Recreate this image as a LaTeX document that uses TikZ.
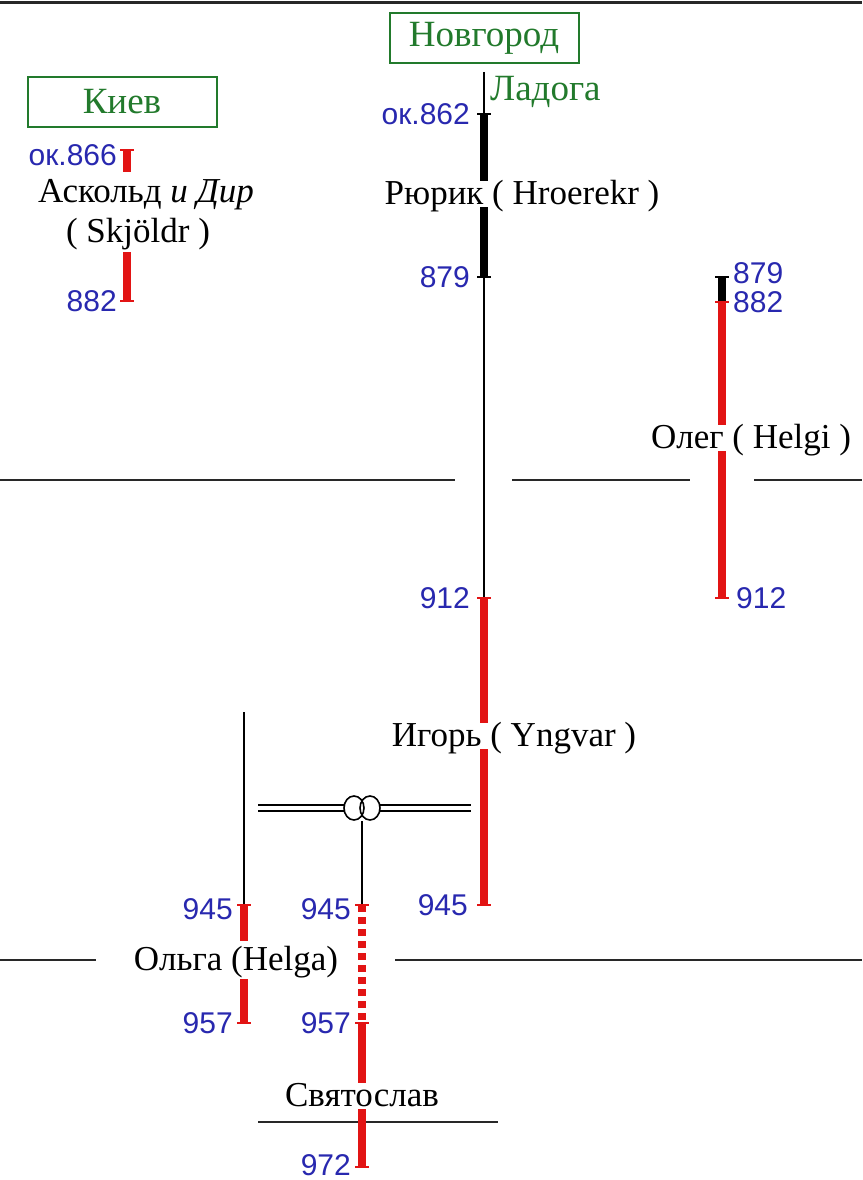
\documentclass[tikz,border=0pt]{standalone}
\usepackage{fontspec}
\setmainfont{Liberation Serif}
\newfontfamily\namefont{Liberation Serif}
\newfontfamily\numfont{Liberation Sans}
\usetikzlibrary{calc}
\definecolor{barred}{RGB}{226,20,20}
\definecolor{numblue}{RGB}{40,40,175}
\definecolor{citygreen}{RGB}{34,122,44}
\definecolor{rulegray}{RGB}{40,40,40}
\tikzset{
  topline/.style={line width=3pt, draw=rulegray},
  rulerline/.style={line width=2pt, draw=rulegray},
  thinline/.style={line width=1.8pt, draw=black},
  redbar/.style={line width=8pt, draw=barred},
  blackbar/.style={line width=8pt, draw=black},
  dotbar/.style={line width=8pt, draw=barred, dash pattern=on 7pt off 5pt},
  redtick/.style={line width=2.5pt, draw=barred},
  blacktick/.style={line width=2.5pt, draw=black},
  ringline/.style={line width=1.6pt, draw=black},
  marriage/.style={double, double distance=4.5pt, line width=2pt, draw=black},
  person/.style={font=\namefont\fontsize{35}{38}\selectfont, text=black, fill=white,
    inner xsep=2pt, inner ysep=0pt, text height=23pt, text depth=3pt},
  year/.style={font=\numfont\fontsize{30}{32}\selectfont, text=numblue, inner sep=0pt},
  citybox/.style={draw=citygreen, line width=2pt, fill=white, minimum width=189pt,
    minimum height=50pt, inner sep=0pt, text=citygreen, font=\namefont\fontsize{37}{40}\selectfont},
  city/.style={text=citygreen, inner sep=0pt, font=\namefont\fontsize{37}{40}\selectfont}
}
\newcommand\tickat[2]{\draw[#1] ([xshift=-7pt]#2) -- ([xshift=7pt]#2);}
\begin{document}
\begin{tikzpicture}[x=1pt,y=-1pt]
\useasboundingbox (0,0) rectangle (862,1180);
\fill[white] (0,0) rectangle (862,1180);

% ---- coordinates ----
\coordinate (t1) at (0,3);   \coordinate (t2) at (862,3);
\coordinate (ha1) at (0,480);   \coordinate (ha2) at (455,480);
\coordinate (ha3) at (512,480); \coordinate (ha4) at (690,480);
\coordinate (ha5) at (754,480); \coordinate (ha6) at (862,480);
\coordinate (hb1) at (0,960);   \coordinate (hb2) at (96,960);
\coordinate (hb3) at (395,960); \coordinate (hb4) at (862,960);
\coordinate (hc1) at (258,1122); \coordinate (hc2) at (498,1122);

\coordinate (m0) at (484,72);
\coordinate (r1) at (484,114);  \coordinate (r2) at (484,277);
\coordinate (i1) at (484,598);  \coordinate (i2) at (484,905);
\coordinate (a1) at (127,150);  \coordinate (a2) at (127,301);
\coordinate (o0) at (722,277);  \coordinate (o1) at (722,302); \coordinate (o2) at (722,598);
\coordinate (g0) at (244,712);  \coordinate (g1) at (244,905); \coordinate (g2) at (244,1023);
\coordinate (ring) at (362,808);
\coordinate (s0) at (362,821);  \coordinate (s1) at (362,905);
\coordinate (s2) at (362,1023); \coordinate (s3) at (362,1167);
\coordinate (dl1) at (258,808); \coordinate (dl2) at (344,808);
\coordinate (dr1) at (380,808); \coordinate (dr2) at (471,808);

% ---- rules ----
\draw[topline] (t1) -- (t2);
\draw[rulerline] (ha1) -- (ha2);
\draw[rulerline] (ha3) -- (ha4);
\draw[rulerline] (ha5) -- (ha6);
\draw[rulerline] (hb1) -- (hb2);
\draw[rulerline] (hb3) -- (hb4);
\draw[rulerline] (hc1) -- (hc2);

% ---- cities ----
\node[citybox] (nov) at (484,38) {Новгород};
\node[citybox] (kiev) at (122,102) {Киев};
\node[city, anchor=west] (lad) at (490,92) {Ладога};

% ---- life bars ----
\draw[thinline] (m0) -- (i1);
\draw[blackbar] (r1) -- (r2);
\tickat{blacktick}{r1} \tickat{blacktick}{r2}
\draw[redbar] (i1) -- (i2);
\tickat{redtick}{i1} \tickat{redtick}{i2}

\draw[redbar] (a1) -- (a2);
\tickat{redtick}{a1} \tickat{redtick}{a2}

\draw[blackbar] (o0) -- (o1);
\tickat{blacktick}{o0}
\draw[redbar] (o1) -- (o2);
\tickat{redtick}{o1} \tickat{redtick}{o2}

\draw[thinline] (g0) -- (g1);
\draw[redbar] (g1) -- (g2);
\tickat{redtick}{g1} \tickat{redtick}{g2}

% marriage
\draw[marriage] (dl1) -- (dl2);
\draw[marriage] (dr1) -- (dr2);
\draw[ringline] ([xshift=-8pt]ring) ellipse[x radius=10pt, y radius=12pt];
\draw[ringline] ([xshift=8pt]ring) ellipse[x radius=10pt, y radius=12pt];

\draw[thinline] (s0) -- (s1);
\draw[dotbar] (s1) -- (s2);
\tickat{redtick}{s1}
\draw[redbar] (s2) -- (s3);
\tickat{redtick}{s2} \tickat{redtick}{s3}

% ---- persons ----
\node[person] (rurik) at (522,194) {Рюрик ( Hroerekr )};
\node[person, minimum height=40pt] (askold) at (146,192) {Аскольд \textit{и Дир}};
\node[person, minimum height=40pt] (skjold) at (138,232) {( Skjöldr )};
\node[person] (oleg) at (751,438) {Олег ( Helgi )};
\node[person] (igor) at (514,736) {Игорь ( Yngvar )};
\node[person, minimum height=38pt] (olga) at (236,960) {Ольга (Helga)};
\node[person] (svyat) at (362,1096) {Святослав};

% ---- years ----
\node[year, anchor=east] (y862) at ([xshift=-14pt]r1) {ок.862};
\node[year, anchor=east] (y879r) at ([xshift=-14pt]r2) {879};
\node[year, anchor=east] (y866) at ([xshift=-10pt,yshift=-5pt]a1) {ок.866};
\node[year, anchor=east] (y882a) at ([xshift=-10pt]a2) {882};
\node[year, anchor=west] (y879o) at ([xshift=11pt,yshift=4pt]o0) {879};
\node[year, anchor=west] (y882o) at ([xshift=11pt]o1) {882};
\node[year, anchor=west] (y912o) at ([xshift=14pt]o2) {912};
\node[year, anchor=east] (y912i) at ([xshift=-14pt]i1) {912};
\node[year, anchor=east] (y945i) at ([xshift=-16pt]i2) {945};
\node[year, anchor=east] (y945g) at ([xshift=-11pt,yshift=-4pt]g1) {945};
\node[year, anchor=east] (y957g) at ([xshift=-11pt]g2) {957};
\node[year, anchor=east] (y945s) at ([xshift=-11pt,yshift=-4pt]s1) {945};
\node[year, anchor=east] (y957s) at ([xshift=-11pt]s2) {957};
\node[year, anchor=east] (y972s) at ([xshift=-11pt,yshift=2pt]s3) {972};
\end{tikzpicture}
\end{document}
